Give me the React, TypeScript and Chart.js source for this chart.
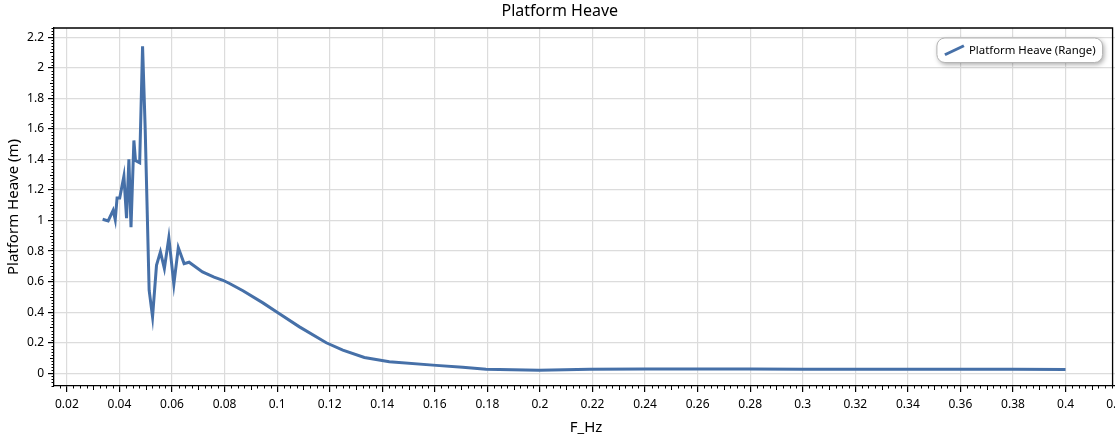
import React, { useEffect, useRef } from 'react';
import { Chart, registerables } from 'chart.js';

Chart.register(...registerables);

// Response
const freqHz = [
  0.0336, 0.0357, 0.0376, 0.0384, 0.0391, 0.0401, 0.0417, 0.0427, 0.0436, 0.0444,
  0.0455, 0.0461, 0.0477, 0.0488, 0.0498, 0.0513, 0.0526, 0.0541, 0.0556, 0.0571,
  0.0588, 0.0607, 0.0624, 0.0646, 0.0665, 0.0716, 0.076, 0.0794, 0.0819, 0.087,
  0.0946, 0.1003, 0.1085, 0.1187, 0.125, 0.1332, 0.1427, 0.1605, 0.1706, 0.1795,
  0.1997, 0.219, 0.24, 0.26, 0.28, 0.3, 0.32, 0.34, 0.36, 0.38, 0.4,
];
const heaveRange = [
  1.008, 0.997, 1.067, 1.006, 1.147, 1.147, 1.29, 1.016, 1.4, 0.957,
  1.524, 1.393, 1.378, 2.14, 1.6, 0.544, 0.37, 0.707, 0.795, 0.686,
  0.888, 0.583, 0.823, 0.718, 0.727, 0.664, 0.63, 0.609, 0.588, 0.54,
  0.461, 0.396, 0.304, 0.2, 0.152, 0.104, 0.076, 0.052, 0.039, 0.026,
  0.02, 0.027, 0.028, 0.029, 0.028, 0.027, 0.027, 0.027, 0.027, 0.026, 0.025,
];

const xTicks = [
  0.02, 0.04, 0.06, 0.08, 0.1, 0.12, 0.14, 0.16, 0.18, 0.2, 0.22,
  0.24, 0.26, 0.28, 0.3, 0.32, 0.34, 0.36, 0.38, 0.4, 0.42,
];
const yTicks = [0, 0.2, 0.4, 0.6, 0.8, 1, 1.2, 1.4, 1.6, 1.8, 2, 2.2];

const X_MIN = 0.0151;
const X_MAX = 0.42;
const X_FRAME = 0.4179; // where the plot's right border sits
const Y_MIN = -0.083;
const Y_MAX = 2.26;

const FONT = '"Segoe UI", "Noto Sans", sans-serif';
const LINE = '#4670a8';

// minor ticks + top/right frame + legend box
const decorations = {
  id: 'decorations',
  afterDraw(chart: any) {
    const { ctx, chartArea } = chart;
    const xs = chart.scales.x;
    const ys = chart.scales.y;
    ctx.save();
    ctx.strokeStyle = '#000';
    ctx.lineWidth = 1;

    // x minor ticks every 0.0025, medium every 0.01
    ctx.beginPath();
    for (let i = Math.ceil(X_MIN / 0.0025); i * 0.0025 <= X_MAX + 1e-9; i++) {
      if (i % 8 === 0) continue;
      const px = Math.round(xs.getPixelForValue(i * 0.0025)) + 0.5;
      const len = i % 4 === 0 ? 4 : 2.5;
      ctx.moveTo(px, chartArea.bottom);
      ctx.lineTo(px, chartArea.bottom + len);
    }
    // y minor ticks every 0.02, medium every 0.1
    for (let i = Math.ceil(Y_MIN / 0.02); i * 0.02 <= Y_MAX + 1e-9; i++) {
      if (i % 10 === 0) continue;
      const py = Math.round(ys.getPixelForValue(i * 0.02)) + 0.5;
      const len = i % 5 === 0 ? 4 : 2.5;
      ctx.moveTo(chartArea.left, py);
      ctx.lineTo(chartArea.left - len, py);
    }
    ctx.stroke();

    // frame
    const right = xs.getPixelForValue(X_FRAME);
    ctx.lineWidth = 1.3;
    ctx.beginPath();
    ctx.moveTo(chartArea.left, chartArea.top);
    ctx.lineTo(right, chartArea.top);
    ctx.lineTo(right, chartArea.bottom);
    ctx.stroke();

    // legend
    const ds = chart.data.datasets[0];
    ctx.font = `11.4px ${FONT}`;
    const tw = ctx.measureText(ds.label).width;
    const w = tw + 39;
    const h = 24.5;
    const bx = right - 10 - w;
    const by = chartArea.top + 10;
    ctx.save();
    ctx.shadowColor = 'rgba(0,0,0,0.35)';
    ctx.shadowBlur = 5;
    ctx.shadowOffsetX = 1.5;
    ctx.shadowOffsetY = 2;
    ctx.fillStyle = '#fff';
    ctx.beginPath();
    ctx.roundRect(bx, by, w, h, 8);
    ctx.fill();
    ctx.restore();
    ctx.strokeStyle = '#b4b4b4';
    ctx.lineWidth = 1;
    ctx.beginPath();
    ctx.roundRect(bx, by, w, h, 8);
    ctx.stroke();

    ctx.strokeStyle = ds.borderColor;
    ctx.lineWidth = 3;
    ctx.beginPath();
    ctx.moveTo(bx + 8, by + h / 2 + 4.5);
    ctx.lineTo(bx + 27, by + h / 2 - 4.5);
    ctx.stroke();

    ctx.fillStyle = '#000';
    ctx.textBaseline = 'middle';
    ctx.textAlign = 'left';
    ctx.fillText(ds.label, bx + 32, by + h / 2 + 0.5);
    ctx.restore();
  },
};

const App: React.FC = () => {
  const canvasRef = useRef<HTMLCanvasElement>(null);
  const chartRef = useRef<Chart | null>(null);

  useEffect(() => {
    if (!canvasRef.current) return;
    if (chartRef.current) chartRef.current.destroy();

    chartRef.current = new Chart(canvasRef.current, {
      type: 'line',
      data: {
        datasets: [
          {
            label: 'Platform Heave (Range)',
            data: freqHz.map((f, i) => ({ x: f, y: heaveRange[i] })),
            borderColor: LINE,
            borderWidth: 3,
            pointRadius: 0,
            tension: 0,
            fill: false,
          },
        ],
      },
      options: {
        animation: false,
        responsive: true,
        maintainAspectRatio: false,
        layout: { padding: { left: 0, right: 15.4, top: 0, bottom: 0 } },
        plugins: {
          legend: { display: false },
          tooltip: { enabled: false },
          title: {
            display: true,
            text: 'Platform Heave',
            color: '#000',
            font: { family: FONT, size: 16, weight: 'normal', lineHeight: 1.2 },
            padding: { top: 2, bottom: 6.8 },
          },
        },
        scales: {
          x: {
            type: 'linear',
            min: X_MIN,
            max: X_MAX,
            afterBuildTicks: (s: any) => {
              s.ticks = xTicks.map((v) => ({ value: v }));
            },
            afterFit: (s: any) => {
              s.height = 48;
            },
            grid: { color: '#dcdcdc', lineWidth: 1.2, tickColor: '#000', tickLength: 6 },
            border: { color: '#000', width: 1.3 },
            ticks: {
              autoSkip: false,
              maxRotation: 0,
              padding: 5,
              color: '#000',
              font: { family: FONT, size: 12 },
              callback: (v: any) => String(Number(Number(v).toFixed(2))),
            },
            title: {
              display: true,
              text: 'F_Hz',
              color: '#000',
              font: { family: FONT, size: 15, lineHeight: 1 },
              padding: { top: 0, bottom: -1 },
            },
          },
          y: {
            type: 'linear',
            min: Y_MIN,
            max: Y_MAX,
            afterBuildTicks: (s: any) => {
              s.ticks = yTicks.map((v) => ({ value: v }));
            },
            afterFit: (s: any) => {
              s.width = 54;
            },
            grid: { color: '#dcdcdc', lineWidth: 1.2, tickColor: '#000', tickLength: 6 },
            border: { color: '#000', width: 1.3 },
            ticks: {
              padding: 4,
              color: '#000',
              font: { family: FONT, size: 12 },
              callback: (v: any) => String(Number(Number(v).toFixed(2))),
            },
            title: {
              display: true,
              text: 'Platform Heave (m)',
              color: '#000',
              font: { family: FONT, size: 15, lineHeight: 1.2 },
              padding: { top: 5, bottom: 0 },
            },
          },
        },
      },
      plugins: [decorations],
    });

    return () => {
      if (chartRef.current) {
        chartRef.current.destroy();
        chartRef.current = null;
      }
    };
  }, []);

  return (
    <>
      <style>{'html,body{margin:0;padding:0;overflow:hidden;background:#fff}'}</style>
      <div style={{ position: 'fixed', left: 0, top: 0, width: 1135, height: 434 }}>
        <canvas ref={canvasRef} />
      </div>
    </>
  );
};

export default App;
